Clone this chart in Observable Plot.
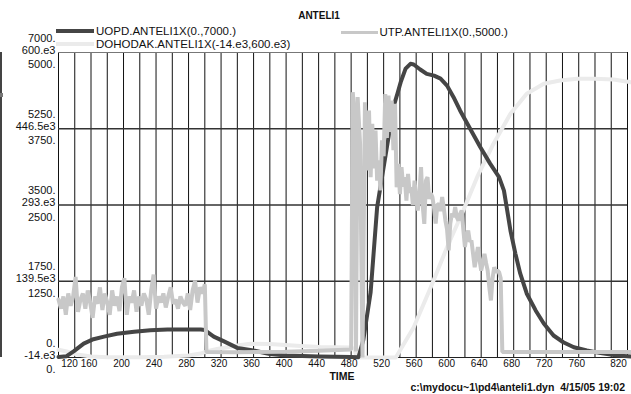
<!DOCTYPE html>
<html>
<head>
<meta charset="utf-8">
<script src="https://cdn.jsdelivr.net/npm/d3@7"></script>
<script src="https://cdn.jsdelivr.net/npm/@observablehq/plot@0.6"></script>
<style>
  html, body { margin: 0; padding: 0; background: #fff; }
  #wrap { position: relative; width: 631px; height: 394px; overflow: hidden;
          font-family: "Liberation Sans", Arial, sans-serif; color: #111; }
  #wrap svg { position: absolute; left: 0; top: 0; }
  .abs { position: absolute; white-space: pre; }
</style>
</head>
<body>
<div id="wrap"></div>
<script>
// ---------- data ----------
const chartTitle = "ANTELI1";
const seriesNames = ["UOPD.ANTELI1X(0.,7000.)", "UTP.ANTELI1X(0.,5000.)", "DOHODAK.ANTELI1X(-14.e3,600.e3)"];
const xTitle = "TIME";
const footer = "c:\\mydocu~1\\pd4\\anteli1.dyn  4/15/05 19:02";

// axis ranges of the three series
const uopdRange = [0, 7000];
const utpRange = [0, 5000];
const dohRange = [-14000, 600000];

// left-axis tick labels (bottom to top)
const uopdLabels = ["0.", "1750.", "3500.", "5250.", "7000."];
const dohLabels = ["-14.e3", "139.5e3", "293.e3", "446.5e3", "600.e3"];
const utpLabels = ["0.", "1250.", "2500.", "3750.", "5000."];

// x tick labels
const xTickLabels = [120, 160, 200, 240, 280, 320, 360, 400, 440, 480, 520, 560, 600, 640, 680, 720, 760, 820];
const xDomain = [120, 820];
const xGridStep = 20;

// UOPD
const uopdTime = [120,130,139,151,163,176,192,213,233,254,274,295,300,311,323,340,356,380,400,440,480,489,495,504,512,518,524,532,537,541,547,553,557,565,573,582,590,598,606,614,623,631,639,651,662,668,672,676,682,688,696,707,717,729,741,754,770,787,807,824];
const uopdValue = [10,30,145,320,420,480,545,590,627,643,643,643,630,480,375,220,175,80,45,25,10,7,400,1500,3450,4140,4825,5745,6060,6320,6630,6740,6725,6610,6510,6470,6400,6240,5975,5670,5365,5095,4825,4450,4140,3830,3375,2915,2390,1930,1470,1080,780,505,350,235,160,100,45,25];

// DOHODAK
const dohTime = [120,130,143,160,180,220,250,280,295,303,315,328,340,356,380,418,442,480,484,487,535,557,578,598,618,635,655,676,696,717,737,758,779,803,824];
const dohValue = [1500,-2000,-8000,-12000,-13500,-13500,-12500,-10000,-6000,-1300,3000,6700,10000,13600,13000,9000,7000,6000,3000,-13800,-13800,47000,127500,208000,282000,349000,416000,476500,517000,537000,543600,547000,547000,545600,540000];

// UTP
const utpTime = [120,123,126,129,132,135,138,141,144,147,150,153,156,159,162,165,168,171,174,177,180,183,186,189,192,195,198,201,204,207,210,213,216,219,222,225,228,231,234,237,240,243,246,249,252,255,258,261,264,267,270,273,276,279,282,285,288,291,294,297,300,
  302,340,400,440,480,
  482,484,486,488,491,494,497,500,502,504,506,508,510,512,514,516,518,520,522,524,526,528,530,532,534,536,538,540,542,544,546,548,550,552,554,556,558,560,562,564,566,568,570,572,574,576,578,580,582,584,586,588,590,592,594,596,598,600,602,604,606,608,610,612,614,616,618,620,622,624,626,628,630,632,634,636,638,640,642,644,646,648,650,652,654,656,658,660,662,664,666,824];
const utpValue = [950,800,1000,700,1050,850,1000,1320,750,950,1050,800,1100,900,650,1000,880,1150,780,1050,900,700,1100,850,1000,760,1150,1300,700,1000,900,1100,750,1000,850,1050,950,700,1100,1360,800,1000,900,1050,820,1000,1150,880,950,800,1000,900,850,1050,780,1100,1260,900,1150,1050,1200,
  90,85,95,110,130,
  4350,4000,100,4270,3500,0,4185,3065,4050,2955,3830,3100,3720,2900,3230,2740,3560,3300,4320,3600,4295,3700,4210,3400,4160,2790,3175,2680,3120,2800,2955,2570,3010,2700,2790,2500,2900,2600,2410,2700,3120,2500,2190,2900,2955,2600,2690,2630,2450,2195,2500,2520,2400,2630,2450,2245,2100,1755,2200,2360,2300,2465,2300,2245,2350,2410,2100,1810,2000,2080,1900,1920,1700,1480,1650,1810,1600,1425,1550,1700,1550,1425,1150,935,1300,1480,1400,1425,1400,1300,90,90];

// ---------- build ----------
const colors = { uopd: "#454545", utp: "#c8c8c8", doh: "#ebebeb" };
const toRows = (ts, vs) => ts.map((t, i) => ({ t, v: vs[i] }));
const norm = ([lo, hi]) => d => (d.v - lo) / (hi - lo);

const uopd = toRows(uopdTime, uopdValue);
const utp = toRows(utpTime, utpValue);
const doh = toRows(dohTime, dohValue);

const fracTicks = [0, 0.25, 0.5, 0.75, 1];
const gridTimes = d3.range(xDomain[0], xDomain[1] + 1, xGridStep);
const lab = arr => d => arr[Math.round(d * 4)];

const first = xTickLabels.slice(0, 1);
const last = xTickLabels.slice(-1);
const middle = xTickLabels.slice(1, -1);

const axY = (fmt, dy) => Plot.axisY(fracTicks, { tickSize: 0, tickPadding: 3, tickFormat: fmt, dy, fontSize: 11, label: null });
const axX = (ticks, dx) => Plot.axisX(ticks, { tickSize: 0, tickPadding: 2, tickFormat: d => String(d), dx, fontSize: 10, label: null });

const chart = Plot.plot({
  width: 631,
  height: 394,
  marginTop: 52,
  marginBottom: 37,
  marginLeft: 58,
  marginRight: 4,
  style: { fontFamily: '"Liberation Sans", Arial, sans-serif', color: "#111", background: "transparent", overflow: "visible" },
  x: { domain: xDomain, label: null },
  y: { domain: [0, 1], label: null },
  marks: [
    Plot.ruleX(gridTimes, { stroke: "#111", strokeWidth: 1 }),
    Plot.ruleY([0.25, 0.5, 0.75], { stroke: "#333", strokeWidth: 1.4 }),
    Plot.ruleY([1], { stroke: "#777", strokeWidth: 1.2 }),
    Plot.ruleY([0], { stroke: "#222", strokeWidth: 1.2 }),
    Plot.line(doh, { x: "t", y: norm(dohRange), stroke: colors.doh, strokeWidth: 4 }),
    Plot.line(uopd, { x: "t", y: norm(uopdRange), stroke: colors.uopd, strokeWidth: 4 }),
    Plot.line(utp, { x: "t", y: norm(utpRange), stroke: colors.utp, strokeWidth: 4, strokeLinejoin: "miter" }),
    axY(lab(uopdLabels), -14.5),
    axY(lab(dohLabels), -2.5),
    axY(lab(utpLabels), 12),
    axX(middle, -2),
    axX(first, 11),
    axX(last, -9)
  ]
});

const wrap = document.getElementById("wrap");
wrap.appendChild(chart);

function add(html, css) {
  const el = document.createElement("div");
  el.className = "abs";
  el.style.cssText += css;
  el.textContent = html;
  wrap.appendChild(el);
  return el;
}
// title
add(chartTitle, "left:0;width:638px;text-align:center;top:10px;font-size:10px;font-weight:bold;line-height:12px;");
// legend
add("", `left:56px;top:29.3px;width:38px;height:4px;background:${colors.uopd};`);
add(seriesNames[0], "left:96px;top:24px;font-size:11.5px;line-height:14px;");
add("", `left:56px;top:42px;width:38px;height:4px;background:${colors.doh};`);
add(seriesNames[2], "left:96px;top:37.3px;font-size:11.5px;line-height:14px;");
add("", `left:341px;top:30.5px;width:37px;height:3.5px;background:${colors.utp};`);
add(seriesNames[1], "left:379.5px;top:24.7px;font-size:11.5px;line-height:14px;");
// x title and footer
add(xTitle, "left:292px;width:100px;text-align:center;top:370px;font-size:10.5px;font-weight:bold;line-height:12px;");
add(footer, "right:6px;top:381px;font-size:10.5px;font-weight:bold;line-height:12px;");
// remnant of neighbouring axis at the far left edge
add("", "left:0;top:52px;width:1.5px;height:305px;background:#444;");
add("", "left:0;top:93px;width:3px;height:4px;background:#777;");
</script>
</body>
</html>
